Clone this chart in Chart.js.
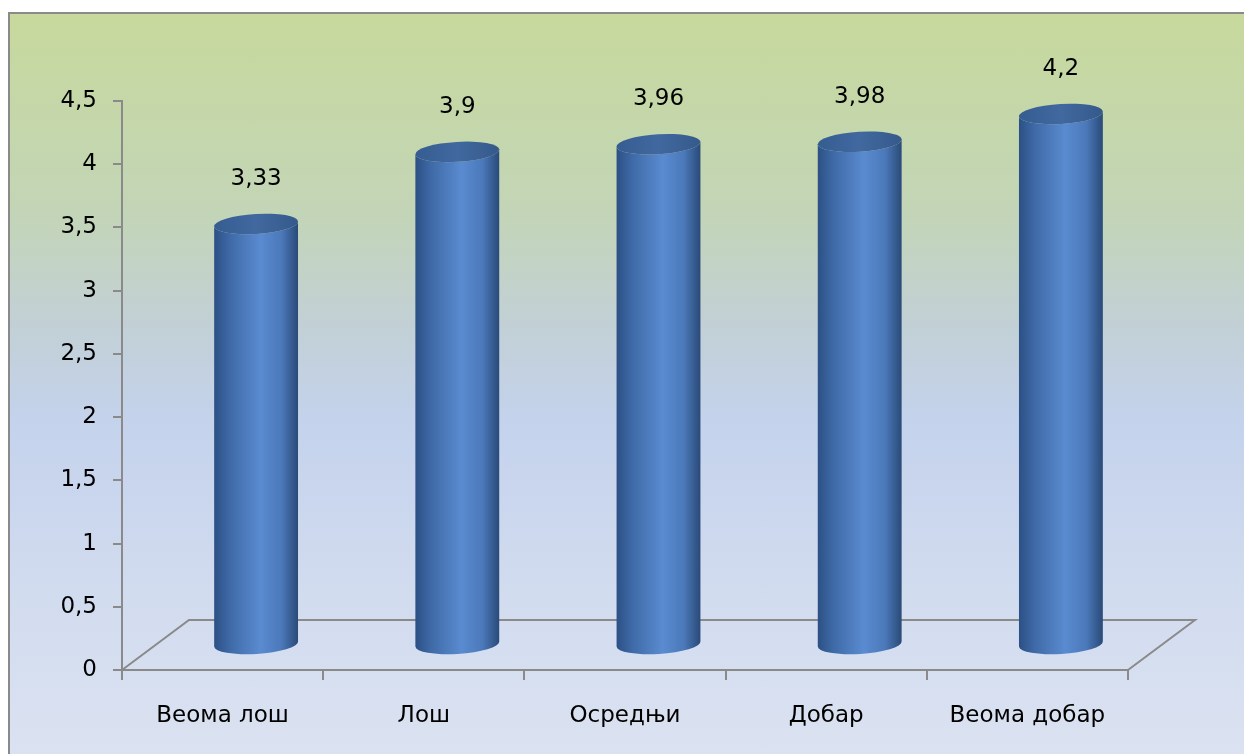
<!DOCTYPE html>
<html>
<head>
<meta charset="utf-8">
<script src="https://cdn.jsdelivr.net/npm/chart.js@4.4.0/dist/chart.umd.min.js"></script>
<style>
  body { margin: 0; background: #fff; overflow: hidden; }
  #frame {
    position: absolute; left: 8px; top: 12px; width: 1260px; height: 780px;
    border: 2px solid #8a8a8a;
    background: linear-gradient(to bottom, #c7d99c 0%, #c3d5b6 25%, #c2d0d6 40%, #c4d2ec 52%, #d2dcef 75%, #dde4f2 100%);
  }
  #myChart { position: absolute; left: 0; top: 0; }
</style>
</head>
<body>
<div id="frame"></div>
<canvas id="myChart" width="1244" height="754"></canvas>
<script>
// --------------- data -----------------------
const categories = ['Веома лош', 'Лош', 'Осредњи', 'Добар', 'Веома добар'];
const values = [3.33, 3.9, 3.96, 3.98, 4.2];
const yTicks = [0, 0.5, 1, 1.5, 2, 2.5, 3, 3.5, 4, 4.5];

const FONT = '"DejaVu Sans", sans-serif';
const AXIS = '#8a8a8a';
const DEPTH_X = 67, DEPTH_Y = -50;   // floor depth
const RX = 42, RY = 10, TILT = -0.06; // cylinder shape

function comma(v) {
    return String(v).replace('.', ',');
}

// --------------- floor + cylinders -----------------------
const cylinders = {
    id: 'cylinders',
    beforeDatasetsDraw(chart) {
        const ctx = chart.ctx;
        const a = chart.chartArea;
        ctx.save();
        ctx.strokeStyle = AXIS;
        ctx.lineWidth = 2;
        ctx.beginPath();
        ctx.moveTo(a.left, a.bottom);
        ctx.lineTo(a.left + DEPTH_X, a.bottom + DEPTH_Y);
        ctx.lineTo(a.right + DEPTH_X, a.bottom + DEPTH_Y);
        ctx.lineTo(a.right, a.bottom);
        ctx.stroke();
        ctx.restore();
    },
    afterDatasetsDraw(chart) {
        const ctx = chart.ctx;
        const meta = chart.getDatasetMeta(0);
        meta.data.forEach(function(bar, i) {
            const cx = bar.x + DEPTH_X / 2;
            const top = bar.y + DEPTH_Y / 2;
            const bottom = bar.base + DEPTH_Y / 2;
            const sx = RX * Math.cos(TILT), sy = RX * Math.sin(TILT);

            ctx.save();
            const g = ctx.createLinearGradient(cx - RX, 0, cx + RX, 0);
            g.addColorStop(0, '#2c5084');
            g.addColorStop(0.18, '#3e69a6');
            g.addColorStop(0.55, '#5a8bd0');
            g.addColorStop(0.8, '#4b79ba');
            g.addColorStop(1, '#2a4a78');
            ctx.fillStyle = g;
            ctx.beginPath();
            ctx.moveTo(cx - sx, top - sy);
            ctx.lineTo(cx - sx, bottom - sy);
            ctx.ellipse(cx, bottom, RX, RY, TILT, Math.PI, 0, true);
            ctx.lineTo(cx + sx, top + sy);
            ctx.ellipse(cx, top, RX, RY, TILT, 0, Math.PI, false);
            ctx.closePath();
            ctx.fill();

            const t = ctx.createLinearGradient(cx - RX, top, cx + RX, top);
            t.addColorStop(0, '#365d92');
            t.addColorStop(0.5, '#41699f');
            t.addColorStop(1, '#35598b');
            ctx.fillStyle = t;
            ctx.beginPath();
            ctx.ellipse(cx, top, RX, RY, TILT, 0, Math.PI * 2);
            ctx.fill();

            // value label
            ctx.fillStyle = '#000';
            ctx.font = '23px ' + FONT;
            ctx.textAlign = 'center';
            ctx.textBaseline = 'middle';
            ctx.fillText(comma(values[i]), cx, top - 45);
            ctx.restore();
        });
    }
};

// --------------- chart -----------------------
const ctx = document.getElementById('myChart').getContext('2d');
const myChart = new Chart(ctx, {
    type: 'bar',
    data: {
        labels: categories,
        datasets: [{
            data: values,
            backgroundColor: 'rgba(0,0,0,0)',
            borderWidth: 0
        }]
    },
    options: {
        responsive: false,
        animation: false,
        layout: { padding: { left: 0, top: 101, right: 116, bottom: 0 } },
        plugins: {
            legend: { display: false },
            tooltip: { enabled: false }
        },
        scales: {
            x: {
                afterFit(scale) { scale.height = 84; },
                grid: { offset: true, drawOnChartArea: false, tickLength: 10, color: AXIS, lineWidth: 2 },
                border: { color: AXIS, width: 2 },
                ticks: { color: '#000', font: { family: FONT, size: 23 }, padding: 22 }
            },
            y: {
                min: 0,
                max: 4.5,
                afterFit(scale) { scale.width = 122; },
                afterBuildTicks(scale) { scale.ticks = yTicks.map(v => ({ value: v })); },
                grid: { drawOnChartArea: false, tickLength: 9, color: AXIS, lineWidth: 2 },
                border: { color: AXIS, width: 2 },
                ticks: { color: '#000', font: { family: FONT, size: 23 }, padding: 16, callback: v => comma(v) }
            }
        }
    },
    plugins: [cylinders]
});
</script>
</body>
</html>
